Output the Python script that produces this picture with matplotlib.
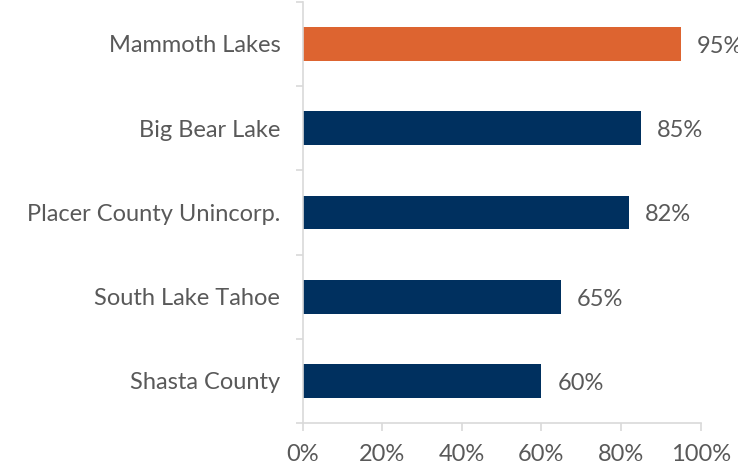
import numpy as np
import matplotlib.pyplot as plt
from matplotlib.ticker import FixedLocator, PercentFormatter

# data, top to bottom as in the chart
places = ['Mammoth Lakes', 'Big Bear Lake', 'Placer County Unincorp.',
          'South Lake Tahoe', 'Shasta County']
shares = [95, 85, 82, 65, 60]
bar_colors = ['#DD6430', '#00305F', '#00305F', '#00305F', '#00305F']

plt.rcParams['font.family'] = ['Lato', 'DejaVu Sans']
TEXT = '#595959'
GRID = '#D9D9D9'
FS = 17

fig = plt.figure(figsize=(7.38, 4.69), dpi=100)
ax = fig.add_axes([0.41, 0.098, 0.5393, 0.898])

y = np.arange(len(places))[::-1]
ax.barh(y, shares, height=0.4, color=bar_colors)

# value labels; the top one runs off the right edge as in the original
for yi, v in zip(y, shares):
    ax.text(v + 4, yi - 0.03, f'{v}%', va='center', ha='left', fontsize=FS,
            color=TEXT, clip_on=False)

ax.set_xlim(0, 100)
ax.set_ylim(-0.5, len(places) - 0.5)
ax.set_xticks(np.arange(0, 101, 20))
ax.xaxis.set_major_formatter(PercentFormatter(decimals=0))
ax.set_yticks(y)
ax.set_yticklabels(places)
ax.yaxis.set_minor_locator(FixedLocator(np.arange(-0.5, len(places), 1)))

ax.tick_params(axis='x', length=6, width=1.2, color=GRID, labelsize=FS,
               labelcolor=TEXT, pad=9)
ax.tick_params(axis='y', which='major', length=0, labelsize=FS,
               labelcolor=TEXT, pad=16)
ax.tick_params(axis='y', which='minor', length=5, width=1.2, color=GRID)

for side in ['top', 'right']:
    ax.spines[side].set_visible(False)
for side in ['left', 'bottom']:
    ax.spines[side].set_color(GRID)
    ax.spines[side].set_linewidth(1.2)

fig.savefig('out.png', dpi=100)
